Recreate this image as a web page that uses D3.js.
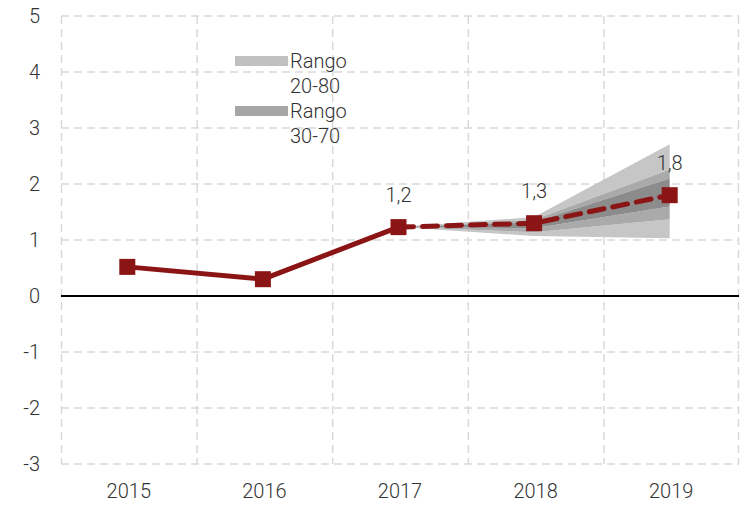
<!DOCTYPE html>
<html>
<head>
<meta charset="utf-8">
<script src="https://cdn.jsdelivr.net/npm/d3@7"></script>
<style>
  body { margin: 0; background: #fff; }
  text { font-family: Roboto, "Noto Sans", sans-serif; font-weight: 300; fill: #333; }
</style>
</head>
<body>
<div id="chart"></div>
<script>
// values
const years = ["2015", "2016", "2017", "2018", "2019"];
const values = [0.52, 0.30, 1.23, 1.30, 1.80];
const valueLabels = [null, null, "1,2", "1,3", "1,8"];
const yTicks = [-3, -2, -1, 0, 1, 2, 3, 4, 5];

// fan (2017-2019)
const fanYears = ["2017", "2018", "2019"];
const low20 = [1.23, 1.07, 1.03];
const low30 = [1.23, 1.14, 1.37];
const low40 = [1.23, 1.21, 1.60];
const high40 = [1.23, 1.32, 2.10];
const high30 = [1.23, 1.36, 2.26];
const high20 = [1.23, 1.41, 2.71];

const legendLabels = [["Rango", "20-80"], ["Rango", "30-70"]];

const W = 740, H = 506;
const margin = {top: 16, right: 1, bottom: 42, left: 61};

const svg = d3.select("#chart").append("svg")
  .attr("width", W).attr("height", H);

const x = d3.scaleBand().domain(years).range([margin.left, W - margin.right]);
const y = d3.scaleLinear().domain([-3, 5]).range([H - margin.bottom, margin.top]);
const cx = d => x(d) + x.bandwidth() / 2 - 1.5;

// gridlines
const grid = svg.append("g").attr("stroke", "#d9d9d9").attr("stroke-width", 1.5)
  .attr("stroke-dasharray", "8,5");
grid.selectAll("line.h").data(yTicks.filter(d => d !== 0)).join("line")
  .attr("x1", margin.left).attr("x2", W - margin.right)
  .attr("y1", d => y(d)).attr("y2", d => y(d));
grid.selectAll("line.v").data(years.concat(["end"])).join("line")
  .attr("x1", d => d === "end" ? x.range()[1] - 0.5 : x(d) + 0.5)
  .attr("x2", d => d === "end" ? x.range()[1] - 0.5 : x(d) + 0.5)
  .attr("y1", y(5)).attr("y2", y(-3));

// fan bands
const bands = [
  {lo: low20, hi: low30, color: "#c6c6c6"},
  {lo: high30, hi: high20, color: "#c6c6c6"},
  {lo: low30, hi: low40, color: "#aaaaaa"},
  {lo: high40, hi: high30, color: "#aaaaaa"},
  {lo: low40, hi: high40, color: "#8c8c8c"}
];
bands.forEach(b => {
  const area = d3.area()
    .x((d, i) => cx(fanYears[i]))
    .y0((d, i) => y(b.lo[i]))
    .y1((d, i) => y(b.hi[i]));
  svg.append("path").datum(fanYears).attr("d", area).attr("fill", b.color);
});

// zero line
svg.append("line")
  .attr("x1", margin.left).attr("x2", W - margin.right)
  .attr("y1", y(0)).attr("y2", y(0))
  .attr("stroke", "#000").attr("stroke-width", 2);

// y axis
const yAxis = svg.append("g")
  .attr("transform", `translate(${margin.left},0)`)
  .call(d3.axisLeft(y).tickValues(yTicks).tickFormat(d => String(d)).tickSize(0).tickPadding(21));
yAxis.select(".domain").remove();
yAxis.selectAll("text").style("font-size", "20px").attr("fill", "#333");

// x axis
const xAxis = svg.append("g")
  .attr("transform", `translate(0,${H - margin.bottom})`)
  .call(d3.axisBottom(x).tickSize(0).tickPadding(20));
xAxis.select(".domain").remove();
xAxis.selectAll("text").style("font-size", "20px").attr("fill", "#333");

// lines
const pts = years.map((d, i) => ({year: d, v: values[i], label: valueLabels[i]}));
const line = d3.line().x(d => cx(d.year)).y(d => y(d.v));
svg.append("path").datum(pts.slice(0, 3)).attr("d", line)
  .attr("fill", "none").attr("stroke", "#8b1414").attr("stroke-width", 5);
svg.append("path").datum(pts.slice(2)).attr("d", line)
  .attr("fill", "none").attr("stroke", "#8b1414").attr("stroke-width", 5)
  .attr("stroke-dasharray", "15,9").attr("stroke-linecap", "round");

// markers
svg.selectAll("rect.mk").data(pts).join("rect")
  .attr("x", d => cx(d.year) - 8).attr("y", d => y(d.v) - 8)
  .attr("width", 16).attr("height", 16).attr("fill", "#8b1414");

// value labels
svg.selectAll("text.lbl").data(pts.filter(d => d.label)).join("text")
  .attr("x", d => cx(d.year)).attr("y", d => y(d.v) - 25)
  .attr("text-anchor", "middle").style("font-size", "20px")
  .text(d => d.label);

// legend
const legendColors = ["#c0c0c0", "#a6a6a6"];
legendLabels.forEach((lab, i) => {
  const gy = 56 + i * 50;
  svg.append("rect").attr("x", 235).attr("y", gy).attr("width", 53).attr("height", 10)
    .attr("fill", legendColors[i]);
  svg.append("text").attr("x", 290).attr("y", gy + 12).style("font-size", "20px").text(lab[0]);
  svg.append("text").attr("x", 290).attr("y", gy + 37).style("font-size", "20px").text(lab[1]);
});
</script>
</body>
</html>
